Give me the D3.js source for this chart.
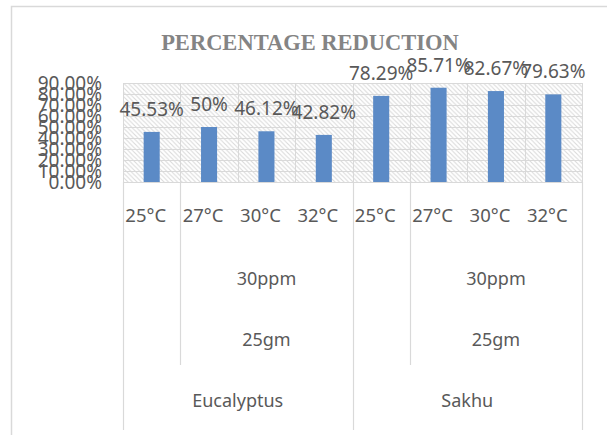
<!DOCTYPE html>
<html>
<head>
<meta charset="utf-8">
<script src="https://cdn.jsdelivr.net/npm/d3@7"></script>
<style>
  html, body { margin: 0; padding: 0; background: #fff; }
  svg { display: block; }
</style>
</head>
<body>
<svg id="chart" width="607" height="435"></svg>
<script>
// ---- Data ----
const temperatures = ["25°C", "27°C", "30°C", "32°C", "25°C", "27°C", "30°C", "32°C"];
const reductionValues = [45.53, 50, 46.12, 42.82, 78.29, 85.71, 82.67, 79.63];
const valueLabels = ["45.53%", "50%", "46.12%", "42.82%", "78.29%", "85.71%", "82.67%", "79.63%"];
const species = ["Eucalyptus", "Sakhu"];
const speciesSpans = [[0, 3], [4, 7]];
const concentrationLabels = ["30ppm", "30ppm"];
const doseLabels = ["25gm", "25gm"];
const subGroupSpans = [[1, 3], [5, 7]];
const yTickValues = [0, 10, 20, 30, 40, 50, 60, 70, 80, 90];
const titleText = "PERCENTAGE REDUCTION";

// ---- Layout ----
const svg = d3.select("#chart");
const plot = { left: 123, right: 582, top: 83, bottom: 182 };
const textColor = "#595959";
const lineColor = "#d9d9d9";
const font = "'Noto Sans', 'Open Sans', sans-serif";

const x = d3.scaleBand().domain(d3.range(temperatures.length)).range([plot.left, plot.right]);
const y = d3.scaleLinear().domain([0, 90]).range([plot.bottom, plot.top]);

// outer border
svg.append("rect").attr("x", 11.5).attr("y", 6.5).attr("width", 620).attr("height", 440)
  .attr("fill", "#fff").attr("stroke", lineColor).attr("stroke-width", 1.5);

// hatch pattern
const defs = svg.append("defs");
const s = 4.5;
const pat = defs.append("pattern").attr("id", "hatch").attr("patternUnits", "userSpaceOnUse")
  .attr("width", s).attr("height", s);
pat.append("path").attr("d", `M0,0 L${s},${s} M-1,${s - 1} L1,${s + 1} M${s - 1},-1 L${s + 1},1`)
  .attr("stroke", "#d9d9d9").attr("stroke-width", 1.1);

svg.append("rect").attr("x", plot.left).attr("y", plot.top)
  .attr("width", plot.right - plot.left).attr("height", plot.bottom - plot.top)
  .attr("fill", "url(#hatch)");

// horizontal gridlines
svg.append("g").selectAll("line").data(yTickValues.filter(d => d > 0)).join("line")
  .attr("x1", plot.left).attr("x2", plot.right)
  .attr("y1", d => Math.round(y(d)) + 0.5).attr("y2", d => Math.round(y(d)) + 0.5)
  .attr("stroke", lineColor).attr("stroke-width", 1);

// vertical gridlines in plot
const boundaries = d3.range(temperatures.length + 1).map(i => i < temperatures.length ? x(i) : plot.right);
svg.append("g").selectAll("line").data(boundaries).join("line")
  .attr("x1", d => Math.round(d) + 0.5).attr("x2", d => Math.round(d) + 0.5)
  .attr("y1", plot.top).attr("y2", plot.bottom)
  .attr("stroke", lineColor).attr("stroke-width", 1);

// bars
const barW = x.bandwidth() * 0.28;
svg.append("g").selectAll("rect").data(reductionValues).join("rect")
  .attr("x", (d, i) => x(i) + x.bandwidth() / 2 - barW / 2)
  .attr("y", d => y(d))
  .attr("width", barW)
  .attr("height", d => y(0) - y(d))
  .attr("fill", "#5b8ac6");

// data labels
svg.append("g").selectAll("text").data(reductionValues).join("text")
  .attr("x", (d, i) => x(i) + x.bandwidth() / 2)
  .attr("y", d => y(d) - 16)
  .attr("text-anchor", "middle")
  .attr("font-family", font).attr("font-size", 19).attr("fill", textColor)
  .text((d, i) => valueLabels[i]);

// y axis
const yAxis = svg.append("g").attr("transform", `translate(${plot.left},0)`)
  .call(d3.axisLeft(y).tickValues(yTickValues).tickSize(0).tickPadding(21)
    .tickFormat(d => d.toFixed(2) + "%"));
yAxis.select(".domain").remove();
yAxis.selectAll("text").attr("font-family", font).attr("font-size", 19).attr("fill", textColor);

// x axis baseline
svg.append("line").attr("x1", plot.left).attr("x2", plot.right)
  .attr("y1", plot.bottom + 0.5).attr("y2", plot.bottom + 0.5)
  .attr("stroke", lineColor).attr("stroke-width", 1);

// x axis: temperatures
const xAxis = svg.append("g").attr("transform", `translate(0,${plot.bottom})`)
  .call(d3.axisBottom(x).tickSize(0).tickPadding(27).tickFormat(i => temperatures[i]));
xAxis.select(".domain").remove();
xAxis.selectAll("text").attr("font-family", font).attr("font-size", 18.5).attr("fill", textColor)
  .attr("dx", -6);

// category separator lines
const spanLeft = sp => x(sp[0]);
const spanRight = sp => x(sp[1]) + x.bandwidth();
const fullLines = [plot.left, ...speciesSpans.map(spanRight)];
svg.append("g").selectAll("line").data(fullLines).join("line")
  .attr("x1", d => Math.round(d) + 0.5).attr("x2", d => Math.round(d) + 0.5)
  .attr("y1", plot.bottom).attr("y2", 430)
  .attr("stroke", lineColor).attr("stroke-width", 1.2);
svg.append("g").selectAll("line").data(subGroupSpans.map(spanLeft)).join("line")
  .attr("x1", d => Math.round(d) + 0.5).attr("x2", d => Math.round(d) + 0.5)
  .attr("y1", plot.bottom).attr("y2", 365)
  .attr("stroke", lineColor).attr("stroke-width", 1.2);

// concentration & dose labels
svg.append("g").selectAll("text").data(subGroupSpans).join("text")
  .attr("x", sp => (spanLeft(sp) + spanRight(sp)) / 2).attr("y", 284.5)
  .attr("text-anchor", "middle").attr("font-family", font).attr("font-size", 18).attr("fill", textColor)
  .text((sp, i) => concentrationLabels[i]);
svg.append("g").selectAll("text").data(subGroupSpans).join("text")
  .attr("x", sp => (spanLeft(sp) + spanRight(sp)) / 2).attr("y", 345.5)
  .attr("text-anchor", "middle").attr("font-family", font).attr("font-size", 18).attr("fill", textColor)
  .text((sp, i) => doseLabels[i]);

// species labels
svg.append("g").selectAll("text").data(speciesSpans).join("text")
  .attr("x", sp => (spanLeft(sp) + spanRight(sp)) / 2).attr("y", 406.5)
  .attr("text-anchor", "middle").attr("font-family", font).attr("font-size", 18).attr("fill", textColor)
  .text((sp, i) => species[i]);

// title
svg.append("text").attr("x", 310).attr("y", 49.5).attr("text-anchor", "middle")
  .attr("font-family", "'Liberation Serif', 'DejaVu Serif', serif").attr("font-weight", "bold")
  .attr("font-size", 22.5).attr("fill", "#848484")
  .text(titleText);
</script>
</body>
</html>
